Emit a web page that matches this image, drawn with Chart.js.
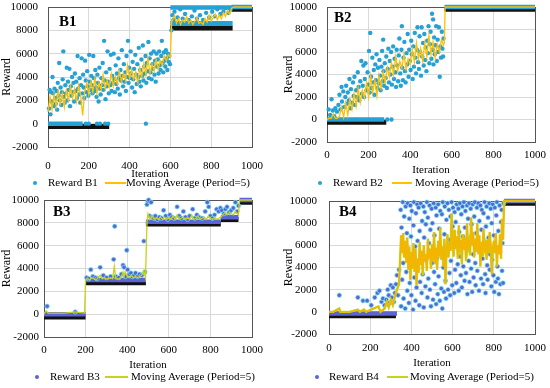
<!DOCTYPE html>
<html>
<head>
<meta charset="utf-8">
<script src="https://cdn.jsdelivr.net/npm/chart.js@4.4.1/dist/chart.umd.min.js"></script>
<style>
  body { margin: 0; background: #fff; width: 550px; height: 388px; overflow: hidden; font-family: "Liberation Serif", serif; }
  .panel { position: absolute; width: 275px; height: 194px; }
  .panel canvas { position: absolute; left: 0; top: 0; }
  .tag { position: absolute; font-weight: bold; font-size: 15px; line-height: 15px; }
  .lg { position: absolute; font-size: 11px; line-height: 13px; white-space: nowrap; top: 176px; }
  .dot { position: absolute; width: 4px; height: 4px; border-radius: 50%; top: 181px; }
  .seg { position: absolute; height: 2px; top: 182px; }
</style>
</head>
<body>

<div class="panel" style="left:0;top:0">
  <canvas id="c1" width="275" height="194"></canvas>
  <div class="tag" style="left:59px;top:14px">B1</div>
  <div class="dot" style="left:33px;background:#25a1d6"></div>
  <div class="lg" style="left:48px">Reward B1</div>
  <div class="seg" style="left:105px;width:21px;background:#ffc000"></div>
  <div class="lg" style="left:126px">Moving Average (Period=5)</div>
</div>
<div class="panel" style="left:275px;top:0">
  <canvas id="c2" width="275" height="194"></canvas>
  <div class="tag" style="left:59px;top:10px">B2</div>
  <div class="dot" style="left:43px;background:#25a1d6"></div>
  <div class="lg" style="left:58px">Reward B2</div>
  <div class="seg" style="left:117px;width:20px;background:#ffc000"></div>
  <div class="lg" style="left:140px">Moving Average (Period=5)</div>
</div>
<div class="panel" style="left:0;top:194px">
  <canvas id="c3" width="275" height="194"></canvas>
  <div class="tag" style="left:53px;top:10px">B3</div>
  <div class="dot" style="left:35px;background:#5b63d6"></div>
  <div class="lg" style="left:50px">Reward B3</div>
  <div class="seg" style="left:105px;width:23px;background:#c6d21c"></div>
  <div class="lg" style="left:131px">Moving Average (Period=5)</div>
</div>
<div class="panel" style="left:275px;top:194px">
  <canvas id="c4" width="275" height="194"></canvas>
  <div class="tag" style="left:64px;top:10px">B4</div>
  <div class="dot" style="left:40px;background:#5b63d6"></div>
  <div class="lg" style="left:54px">Reward B4</div>
  <div class="seg" style="left:112px;width:21px;background:#c6d21c"></div>
  <div class="lg" style="left:135px">Moving Average (Period=5)</div>
</div>

<script>
// axis ticks
var iterTicks = [0, 200, 400, 600, 800, 1000];
var rewardTicks = [-2000, 0, 2000, 4000, 6000, 8000, 10000];

// ---- B1 ----
// dense runs of points read as bands: [from, to, reward]
var b1DarkBands = [[0, 300, -250], [600, 905, 8200], [900, 1000, 9800]];
var b1DotBands = [[0, 170, 0], [600, 905, 8600], [600, 900, 9950], [900, 1000, 10000]];
var b1Points = [[5,1300],[8,2900],[12,800],[15,2700],[18,1900],[22,4000],[25,2600],[28,1500],[32,3000],[35,2200],[38,1700],[42,2800],[45,1200],[48,3500],[52,2400],[55,5200],[58,2000],[62,3100],[65,1600],[68,2700],[72,3800],[75,6200],[78,2300],[82,1800],[85,3300],[88,2600],[92,4800],[95,2000],[98,3600],[102,2900],[105,4700],[108,1500],[112,3200],[115,2400],[118,4000],[122,2700],[125,3500],[128,1900],[132,4300],[135,2800],[138,3600],[142,2200],[145,5800],[148,3000],[152,2500],[155,3900],[158,1800],[162,3300],[165,5600],[168,2600],[172,4200],[175,3100],[178,2200],[182,5400],[185,3700],[188,2700],[192,4500],[195,3200],[198,2400],[202,5900],[205,3600],[208,2900],[212,4100],[215,3300],[218,2600],[222,5800],[225,3900],[228,2800],[232,4600],[235,3100],[238,2300],[242,4200],[245,3500],[248,1900],[252,4800],[255,3000],[258,2500],[262,3900],[265,3300],[268,5200],[272,2900],[275,7100],[278,3700],[282,2100],[285,4400],[288,3200],[292,6200],[295,3600],[298,2600],[302,4700],[305,3300],[308,5900],[312,2800],[315,4100],[318,3500],[322,6000],[325,3800],[328,2700],[332,5000],[335,3400],[338,4300],[342,3000],[345,5600],[348,3900],[352,2500],[355,4600],[358,3700],[362,6300],[365,4100],[368,3200],[372,5100],[375,3600],[378,4400],[382,2800],[385,5800],[388,4000],[392,7100],[395,3500],[398,4800],[402,3900],[405,6200],[408,4300],[412,3100],[415,5300],[418,3800],[422,4700],[425,2700],[428,5900],[432,4200],[435,3400],[438,5100],[442,4000],[445,6500],[448,3600],[452,4600],[455,3200],[458,5500],[462,4100],[465,6700],[468,3700],[472,4900],[475,4300],[478,5800],[482,3500],[485,5200],[488,4500],[492,7000],[495,3900],[498,5600],[502,4400],[505,6000],[508,3800],[512,5100],[515,4700],[518,6200],[522,4200],[525,5400],[528,3600],[532,6000],[535,4900],[538,5500],[542,4300],[545,6200],[548,5000],[552,4600],[555,5800],[558,7100],[562,5200],[565,4400],[568,6100],[572,5400],[575,4900],[578,6300],[582,5600],[585,4600],[588,6000],[592,5300],[595,5800],[598,5100],
  [185,0],[200,0],[240,0],[255,0],[280,0],[295,0],[480,0],
  [605,8000],[610,9300],[615,8900],[620,9600],[635,9100],[648,9800],[660,9000],[672,9400],[690,8900],[705,9200],[718,9700],[730,9000],[745,9300],[760,8900],[775,9500],[790,9100],[805,9600],[818,9200],[830,9800],[845,9400],[860,9600],[872,9900],[885,9500],[895,9800]];
var b1MaIter = [0,10,20,30,40,50,60,70,80,90,100,110,120,130,140,150,160,170,180,190,200,210,220,230,240,250,260,270,280,290,300,310,320,330,340,350,360,370,380,390,400,410,420,430,440,450,460,470,480,490,500,510,520,530,540,550,560,570,580,590,600,606,620,630,640,650,660,670,680,690,700,710,720,730,740,750,760,770,780,790,800,810,820,830,840,850,860,870,880,890,900,910,1000];
var b1Ma = [1000,2300,1200,2500,1500,2800,1700,2600,1400,2900,2000,3200,2200,3000,1900,3300,2400,700,2800,3500,2500,3600,2700,3900,2600,3500,2900,4200,3000,3700,3100,4300,3200,4000,3400,4500,3600,4300,3700,5000,3900,4600,3800,4400,3500,4800,4000,5200,4200,5600,4300,5100,4500,5500,4700,5400,5000,5800,5400,5900,5700,8700,9300,8600,9000,8500,8900,8700,9200,8600,8900,8500,8800,9100,8600,8700,8500,9000,8700,9300,8800,9100,9400,8900,9300,9000,9500,9200,9700,9400,9900,10000,10000];

// ---- B2 ----
var b2DarkBands = [[0, 285, -250], [565, 1000, 9800]];
var b2DotBands = [[0, 275, 0], [565, 1000, 10000]];
var b2Points = [[8,900],[15,400],[22,1800],[28,800],[35,300],[40,1000],[48,700],[55,1300],[60,2200],[65,900],[70,2900],[72,1600],[78,2500],[82,1100],[88,2000],[92,3000],[95,1400],[100,2400],[105,1700],[108,3600],[112,1000],[115,2700],[120,1500],[125,3300],[128,2100],[132,3800],[135,1300],[140,2600],[145,2000],[148,4200],[152,2900],[155,1700],[160,3400],[165,5200],[168,2300],[172,3000],[175,4800],[178,2000],[182,3600],[185,5000],[190,2600],[195,4200],[198,3100],[202,6100],[205,2400],[208,7700],[212,3800],[215,2800],[218,5500],[222,3300],[225,4400],[228,2200],[232,4900],[235,3500],[238,5800],[242,2800],[245,4600],[248,3200],[252,5300],[255,3900],[258,2600],[262,4700],[265,6100],[268,3400],[270,7100],[272,4300],[275,3000],[278,5000],[282,3700],[285,5600],[288,2800],[292,4500],[295,6300],[298,3300],[302,5200],[305,4000],[308,6000],[312,3100],[315,4700],[318,6500],[322,3600],[325,5400],[328,4200],[332,2900],[335,6200],[338,4800],[342,3400],[345,5700],[348,7200],[352,4100],[355,3000],[358,6200],[360,8300],[362,4600],[365,3500],[368,5500],[372,6900],[375,4300],[378,3300],[382,5900],[385,4900],[388,7600],[392,3800],[395,6200],[398,5200],[402,4400],[405,7000],[408,5800],[412,3600],[415,6500],[418,4700],[422,7700],[425,5500],[428,4100],[432,6200],[435,8200],[438,5100],[442,4500],[445,7400],[448,6000],[452,3900],[455,8200],[458,5600],[462,6800],[465,4800],[468,7600],[472,5300],[475,6400],[478,4300],[482,7000],[485,5900],[488,8300],[492,5000],[495,6700],[498,7800],[502,5400],[505,9400],[508,6200],[510,8900],[512,4900],[515,7300],[518,5800],[522,6600],[525,8300],[528,5200],[532,7100],[535,6000],[538,8200],[542,3800],[545,6500],[548,5500],[552,7800],[555,6300],[558,5600],[560,7200],
  [290,0],[310,0]];
var b2MaIter = [0,10,20,30,40,50,60,70,80,90,100,110,120,130,140,150,160,170,180,190,200,210,220,230,240,250,260,270,280,290,300,310,320,330,340,350,360,370,380,390,400,410,420,430,440,450,460,470,480,490,500,510,520,530,540,550,560,564,568,1000];
var b2Ma = [0,100,100,500,100,100,300,1100,200,1500,400,1800,900,2300,1200,2800,1500,2600,1900,3300,2000,3900,2400,3500,2100,3900,2800,4200,3300,4600,3800,5100,4000,5600,4300,5200,4600,5800,4500,5400,4900,6200,5100,6800,5400,6300,5200,6800,5600,7500,5800,6900,5500,6700,6000,7100,6600,6800,10000,10000];

// ---- B3 ----
var b3DarkBands = [[0, 200, -250], [200, 490, 2750], [490, 850, 7900], [850, 935, 8300], [940, 1000, 9800]];
var b3DotBands = [[0, 200, 0], [200, 490, 3000], [490, 850, 8100], [850, 935, 8500], [940, 1000, 10000]];
var b3Points = [[15,700],[150,200],[205,3200],[215,3100],[225,3900],[235,3300],[248,3200],[255,3100],[270,4100],[285,3400],[300,3200],[320,3300],[335,4800],[340,7700],[345,3300],[360,3200],[372,3500],[380,4300],[385,4100],[392,3300],[398,5600],[402,3900],[410,3500],[418,3600],[425,3300],[432,3400],[440,3600],[450,3300],[460,3500],[470,3400],[480,6400],[485,3700],[495,9600],[500,9900],[503,10000],[508,8600],[515,9800],[520,8500],[528,8400],[535,8600],[545,8300],[555,8500],[565,8400],[575,9100],[585,8600],[595,8300],[605,8700],[615,8500],[625,8400],[640,9400],[650,8600],[660,8400],[670,9000],[680,8500],[690,8300],[700,8600],[715,9200],[725,8400],[735,8700],[745,8500],[760,8400],[775,9000],[785,9800],[792,9400],[800,8600],[810,8400],[820,8700],[830,9200],[840,9000],[848,9300],[855,9100],[865,8800],[872,9200],[880,9400],[890,8900],[900,9100],[910,9300],[920,9800],[928,9000],[935,9500]];
var b3MaIter = [0,10,20,60,100,150,195,200,210,220,230,240,250,260,270,280,290,300,310,320,330,338,345,360,370,380,385,390,400,410,420,430,440,450,460,470,480,488,495,500,510,520,530,540,550,560,570,580,590,600,610,620,630,640,650,660,670,680,690,700,710,720,730,740,750,760,770,780,790,800,810,820,830,840,850,860,870,880,890,900,910,920,930,935,940,1000];
var b3Ma = [0,300,100,100,100,200,100,3000,3100,3000,3200,3100,3000,3200,3400,3100,3200,3100,3100,3200,3100,4200,3100,3100,3200,3700,3300,3700,3300,3200,3400,3200,3300,3200,3300,3400,3800,3200,8000,8800,8300,8600,8300,8400,8300,8500,8300,8500,8300,8400,8300,8600,8300,8700,8300,8400,8500,8300,8400,8300,8700,8300,8400,8600,8300,8400,8500,8300,8600,8400,8300,8500,8300,8400,8500,8700,8900,8700,8900,8800,8700,9000,8800,8700,10000,10000];

// ---- B4 ----
var b4DarkBands = [[0, 325, -350], [850, 1000, 9800]];
var b4DotBands = [[0, 330, -150], [850, 1000, 10000]];
var b4Points = [[50,1500],[140,1300],[165,1000],[185,1000],[205,600],[222,1300],[235,1700],[245,1900],[255,900],[262,1200],[270,600],[278,1100],[285,2000],[290,1500],[295,800],[300,2400],[305,1300],[310,2200],[315,900],[320,1700],[325,2500],[330,3300],[335,1500],[340,3800],
  [348,9200],[350,500],[352,7600],[355,2900],[358,9900],[360,4400],[362,1200],[365,8600],[368,6100],[370,300],[372,9500],[375,3600],[378,7100],[380,1900],[382,9800],[385,5300],[388,800],[390,8400],[392,2600],[395,9600],[398,6800],[400,1500],[402,9100],[405,4100],[408,200],[410,7800],[412,9900],[415,3100],[418,5900],[420,1000],[422,8900],[425,2200],[428,9700],[430,6400],[432,3900],[435,9400],[438,600],[440,7300],[442,2700],[445,9800],[448,5000],[450,1700],[452,8200],[455,3400],[458,9500],[460,400],[462,6700],[465,9000],[468,2300],[470,7900],[472,4700],[475,9900],[478,1300],[480,8500],[482,3000],[485,6200],[488,9600],[490,2000],[492,7400],[495,500],[498,9300],[500,4400],[502,8000],[505,1100],[508,9800],[510,3600],[512,6900],[515,2500],[518,9400],[520,700],[522,8700],[525,4900],[528,1600],[530,9700],[532,3200],[535,7500],[538,1000],[540,9100],[542,5600],[545,2100],[548,8800],[550,300],[552,9900],[555,4000],[558,1800],[560,7000],[562,9500],[565,2800],[568,1200],[570,8300],[572,5300],[575,9800],[578,2000],[580,6500],[582,9200],[585,3500],[588,1500],[590,8600],[592,4600],[595,9900],[598,2400],[600,7700],[602,9400],[605,5800],[608,1700],[610,9000],[612,3800],[615,8100],[618,2600],[620,9700],[622,6100],[625,4300],[628,9300],[630,1900],[632,7200],[635,9800],[638,5000],[640,3300],[642,8800],[645,2200],[648,9500],[650,6800],[652,4100],[655,9900],[658,2800],[660,7600],[662,9100],[665,3500],[668,5700],[670,9600],[672,1600],[675,8400],[678,4600],[680,9800],[682,2700],[685,6400],[688,9300],[690,3900],[692,7900],[695,1800],[698,9700],[700,5200],[702,3100],[705,8600],[708,9900],[710,4400],[712,2400],[715,7100],[718,9400],[720,3700],[722,6000],[725,9800],[728,1900],[730,8200],[732,5500],[735,9600],[738,3000],[740,7400],[742,9200],[745,4800],[748,2500],[750,8900],[752,6300],[755,9900],[758,3400],[760,1700],[762,7700],[765,9500],[768,4200],[770,2900],[772,8500],[775,6700],[778,9800],[780,3800],[782,5200],[785,9300],[788,2300],[790,8000],[792,4700],[795,9700],[798,3300],[800,6900],[802,1800],[805,9400],[808,5800],[810,2700],[812,8700],[815,9900],[818,4100],[820,3000],[822,7300],[825,1600],[828,9600],[830,5400],[832,2500],[835,8100],[838,9200],[840,3700],[842,6200],[845,2600],[848,9800]];
var b4MaIter = [0,20,50,55,100,140,150,170,180,240,250,270,280,290,300,310,320,330,340,345,350,355,360,365,370,375,380,385,390,395,400,405,410,415,420,425,430,435,440,445,450,455,460,465,470,475,480,485,490,495,500,505,510,515,520,525,530,535,540,545,550,555,560,565,570,575,580,585,590,595,600,605,610,615,620,625,630,635,640,645,650,655,660,665,670,675,680,685,690,695,700,705,710,715,720,725,730,735,740,745,750,755,760,765,770,775,780,785,790,795,800,805,810,815,820,825,830,835,840,845,850,1000];
var b4Ma = [0,0,300,0,0,200,0,200,0,500,0,300,900,400,1100,600,1400,2000,2500,4600,6900,5300,7100,4900,6400,4400,6700,3800,5900,2900,5400,3900,6200,3600,5700,2400,4800,3500,6300,4200,5500,3300,6000,4500,5200,3700,6600,4800,5700,3900,6100,4600,7200,4300,5800,3800,6400,5000,7600,4700,5900,4100,6600,2500,5300,7000,4900,6300,5500,8900,6200,5000,7400,5700,6800,4800,7800,5900,6500,4300,7000,5600,6700,4600,8000,5800,6300,5100,8500,6000,7200,4900,6600,5400,8000,5200,6900,4100,6300,5000,7500,5700,6100,4700,6500,5300,7200,6000,3400,5600,6400,5300,7100,4100,6000,5200,7000,4800,8400,6500,10000,10000];

Chart.defaults.font.family = '"Liberation Serif", serif';
Chart.defaults.font.size = 11;
Chart.defaults.color = '#000';

function pairs(list) {
  return list.map(function (p) { return { x: p[0], y: p[1] }; });
}
function zip(xs, ys) {
  return xs.map(function (x, i) { return { x: x, y: ys[i] }; });
}
function bands(list) {
  var out = [];
  list.forEach(function (b) {
    out.push({ x: b[0], y: b[2] }, { x: b[1], y: b[2] }, { x: b[1], y: null });
  });
  return out;
}

var frame = {
  id: 'frame',
  beforeDatasetsDraw: function (chart) {
    var a = chart.chartArea, ctx = chart.ctx;
    ctx.save();
    ctx.strokeStyle = '#555';
    ctx.lineWidth = 1;
    ctx.strokeRect(Math.round(a.left) + 0.5, Math.round(a.top) + 0.5, Math.round(a.right - a.left), Math.round(a.bottom - a.top));
    ctx.restore();
  }
};

function makeChart(id, box, s) {
  var lineSets = [{
    label: 'Moving Average (Period=5)',
    data: zip(s.maIter, s.ma),
    showLine: true, pointRadius: 0, borderColor: s.maColor, borderWidth: 1.3, clip: 4
  }];
  if (s.maUnder) {
    lineSets.push({
      data: zip(s.maIter, s.ma),
      showLine: true, pointRadius: 0, borderColor: s.maUnder, borderWidth: 2.4, clip: 4
    });
  }
  var datasets = lineSets.concat([
    {
      label: s.name,
      data: pairs(s.points),
      pointRadius: 2.2, pointBackgroundColor: s.dotColor,
      pointBorderColor: s.dotEdge, pointBorderWidth: s.dotEdge ? 1 : 0, clip: 5
    },
    {
      data: bands(s.dotBands),
      showLine: true, spanGaps: false, pointRadius: 0, borderColor: s.dotColor, borderWidth: 4.5, clip: 5
    },
    {
      data: bands(s.darkBands),
      showLine: true, spanGaps: false, pointRadius: 0, borderColor: '#111', borderWidth: 5, clip: 5
    }
  ]);

  new Chart(document.getElementById(id), {
    type: 'scatter',
    data: { datasets: datasets },
    options: {
      responsive: false,
      animation: false,
      devicePixelRatio: 1,
      layout: { padding: { top: box.top, right: 275 - box.right, bottom: 0, left: 0 } },
      plugins: { legend: { display: false }, tooltip: { enabled: false } },
      scales: {
        x: {
          type: 'linear', min: 0, max: 1000,
          afterBuildTicks: function (sc) { sc.ticks = iterTicks.map(function (v) { return { value: v }; }); },
          afterFit: function (sc) {
            sc.height = 194 - box.bottom;
            sc.paddingLeft = 0; sc.paddingRight = 0;
          },
          grid: { color: '#d9d9d9', drawTicks: false },
          border: { display: false },
          ticks: { padding: box.xTickPad, maxRotation: 0, callback: function (v) { return String(v); } },
          title: { display: true, text: 'Iteration', font: { size: 11 }, padding: { top: 0, bottom: box.xTitlePad } }
        },
        y: {
          type: 'linear', min: -2000, max: 10000,
          afterBuildTicks: function (sc) { sc.ticks = rewardTicks.map(function (v) { return { value: v }; }); },
          afterFit: function (sc) {
            sc.width = box.left;
            sc.paddingTop = 0; sc.paddingBottom = 0;
          },
          grid: { color: '#d9d9d9', drawTicks: false },
          border: { display: false },
          ticks: { padding: box.yTickPad, callback: function (v) { return String(v); } },
          title: { display: true, text: 'Reward', font: { size: 12 }, padding: { top: box.yTitlePad, bottom: 0 } }
        }
      }
    },
    plugins: [frame]
  });
}

makeChart('c1', { left: 48, right: 252, top: 7, bottom: 147, yTickPad: 10, yTitlePad: 0, xTickPad: 13, xTitlePad: 13 }, {
  name: 'Reward B1', points: b1Points, dotBands: b1DotBands, darkBands: b1DarkBands,
  maIter: b1MaIter, ma: b1Ma, dotColor: '#25a1d6', maColor: '#ffc000'
});
makeChart('c2', { left: 52, right: 260, top: 7, bottom: 142, yTickPad: 10, yTitlePad: 7, xTickPad: 7, xTitlePad: 17 }, {
  name: 'Reward B2', points: b2Points, dotBands: b2DotBands, darkBands: b2DarkBands,
  maIter: b2MaIter, ma: b2Ma, dotColor: '#25a1d6', maColor: '#ffc000'
});
makeChart('c3', { left: 44, right: 252, top: 6, bottom: 143, yTickPad: 5, yTitlePad: 0, xTickPad: 7, xTitlePad: 16 }, {
  name: 'Reward B3', points: b3Points, dotBands: b3DotBands, darkBands: b3DarkBands,
  maIter: b3MaIter, ma: b3Ma, dotColor: '#5b63d6', dotEdge: 'rgba(110,235,235,0.7)', maColor: '#c6d21c'
});
makeChart('c4', { left: 54, right: 260, top: 7, bottom: 140, yTickPad: 12, yTitlePad: 7, xTickPad: 8, xTitlePad: 18 }, {
  name: 'Reward B4', points: b4Points, dotBands: b4DotBands, darkBands: b4DarkBands,
  maIter: b4MaIter, ma: b4Ma, dotColor: '#5b63d6', dotEdge: 'rgba(110,235,235,0.7)', maColor: '#f4b400', maUnder: '#c6d21c'
});
</script>
</body>
</html>
